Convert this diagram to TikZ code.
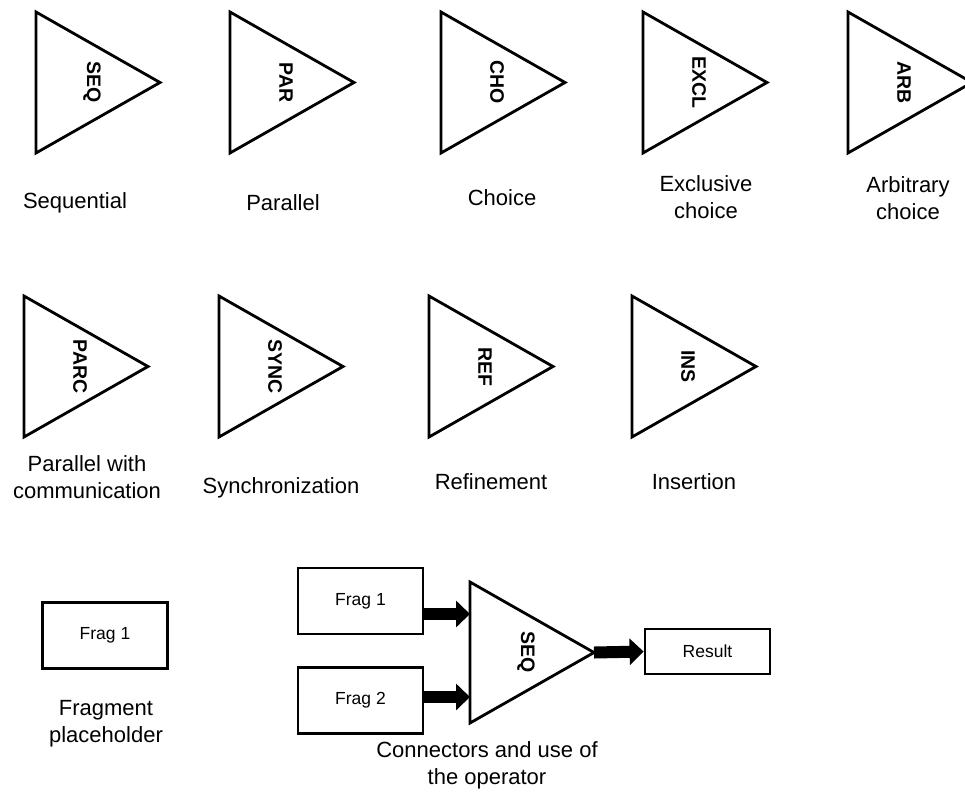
\documentclass[tikz,border=0pt]{standalone}
\usepackage{fontspec}
\setmainfont{Liberation Sans}
\usetikzlibrary{arrows.meta}
\newcommand{\optri}[4]{% #1 name, #2 left x, #3 top y, #4 label
  \draw[tri] (#2,#3) coordinate (#1-top) -- (#2+124,#3+70.5) coordinate (#1-apex) -- (#2,#3+141) coordinate (#1-bot) -- cycle;
  \node[oplabel] (#1) at (#2+56,#3+70.5) {#4};
}
\begin{document}
\begin{tikzpicture}[x=1pt,y=-1pt,
  tri/.style={draw,line width=2.8pt,line join=miter},
  oplabel/.style={font=\fontsize{19.5}{20}\selectfont\bfseries, rotate=-90, inner sep=0pt},
  caption/.style={font=\fontsize{22}{27}\selectfont, align=center, inner sep=0pt},
  frag/.style={draw, line width=2.8pt, minimum width=125pt, minimum height=66pt, inner sep=0pt, font=\fontsize{17.5}{20}\selectfont},
  bigarrow/.style={line width=12pt, -{Triangle[length=14pt,width=26pt]}}
]
\useasboundingbox (0,0) rectangle (965,798);
% row 1
\optri{seq}{36}{12}{SEQ}
\optri{par}{230}{12}{PAR}
\optri{cho}{441}{12}{CHO}
\optri{excl}{643}{12}{EXCL}
\optri{arb}{848}{12}{ARB}
\node[caption] (capseq) at (75,203) {Sequential};
\node[caption] (cappar) at (283,203) {Parallel};
\node[caption] (capcho) at (502,198) {Choice};
\node[caption] (capexcl) at (706,197.5) {Exclusive\\choice};
\node[caption] (caparb) at (908,198.5) {Arbitrary\\choice};
% row 2
\optri{parc}{24}{296}{PARC}
\optri{sync}{219}{296}{SYNC}
\optri{ref}{429}{296}{REF}
\optri{ins}{632}{296}{INS}
\node[caption] (capparc) at (87,477.5) {Parallel with\\communication};
\node[caption] (capsync) at (281,488) {Synchronization};
\node[caption] (capref) at (491,482) {Refinement};
\node[caption] (capins) at (694,482) {Insertion};
% row 3
\node[frag] (frag0) at (105,635.5) {Frag 1};
\node[caption] (capfrag) at (106,723.5) {Fragment\\placeholder};
\node[frag] (frag1) at (360.5,601) {Frag 1};
\node[frag] (frag2) at (360.5,700.5) {Frag 2};
\optri{seqb}{470}{582}{SEQ}
\node[frag, minimum height=45pt] (result) at (707.5,651.5) {Result};
\coordinate (in1) at (470,614);
\coordinate (in2) at (470,697);
\draw[bigarrow] (frag1.east |- in1) -- (in1);
\draw[bigarrow] (frag2.east |- in2) -- (in2);
\draw[bigarrow] (seqb-apex) -- (result.west);
\node[caption] (capconn) at (487,765) {Connectors and use of\\the operator};
\end{tikzpicture}
\end{document}
